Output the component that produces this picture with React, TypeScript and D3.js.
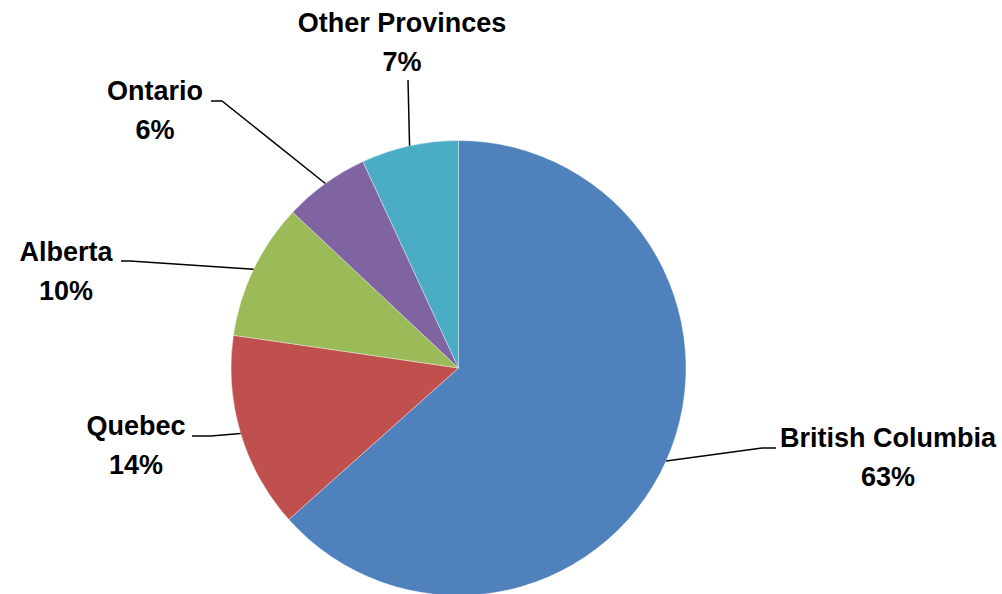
import React from "react";
import * as d3 from "d3";

const categories = ["British Columbia", "Quebec", "Alberta", "Ontario", "Other Provinces"];
const values = [63.4, 13.9, 9.7, 6.1, 6.9];
const colors = ["#4F81BD", "#C0504D", "#9BBB59", "#8064A2", "#4BACC6"];

// label layout: text center x, first baseline y, elbow point and end point of leader
const labelLayout = [
  { tx: 888, ty: 447, elbow: [762, 448], end: [776, 448] },
  { tx: 136, ty: 435, elbow: [211, 436], end: [192, 436] },
  { tx: 66, ty: 261, elbow: [130, 261], end: [121, 261] },
  { tx: 155, ty: 100, elbow: [222, 101], end: [211, 101] },
  { tx: 402, ty: 32, elbow: [408, 80], end: [408, 80] },
];

const W = 1002;
const H = 594;
const cx = 458.5;
const cy = 368;
const R = 227.5;

export default function App() {
  const total = d3.sum(values);
  const pie = d3.pie<number>().sort(null).value((d) => d)(values);
  const arc = d3.arc<d3.PieArcDatum<number>>().innerRadius(0).outerRadius(R);
  const edge = d3.arc<d3.PieArcDatum<number>>().innerRadius(R).outerRadius(R);

  return (
    <svg
      width={W}
      height={H}
      style={{ position: "absolute", left: 0, top: 0, background: "#fff" }}
      fontFamily="'Liberation Sans', Arial, sans-serif"
    >
      <g transform={`translate(${cx},${cy})`}>
        {pie.map((p, i) => (
          <path key={i} d={arc(p) || ""} fill={colors[i]} stroke="#ffffff" strokeWidth={0.6} strokeOpacity={0.6} />
        ))}
      </g>
      {pie.map((p, i) => {
        const [ex, ey] = edge.centroid(p);
        const L = labelLayout[i];
        const pts = `${cx + ex},${cy + ey} ${L.elbow[0]},${L.elbow[1]} ${L.end[0]},${L.end[1]}`;
        return <polyline key={"l" + i} points={pts} fill="none" stroke="#000" strokeWidth={1.5} />;
      })}
      {categories.map((c, i) => {
        const L = labelLayout[i];
        const pct = Math.round((values[i] / total) * 100) + "%";
        return (
          <text key={"t" + i} x={L.tx} y={L.ty} textAnchor="middle" fontSize={27} fontWeight="bold" fill="#000">
            <tspan x={L.tx} y={L.ty}>{c}</tspan>
            <tspan x={L.tx} y={L.ty + 39}>{pct}</tspan>
          </text>
        );
      })}
    </svg>
  );
}
